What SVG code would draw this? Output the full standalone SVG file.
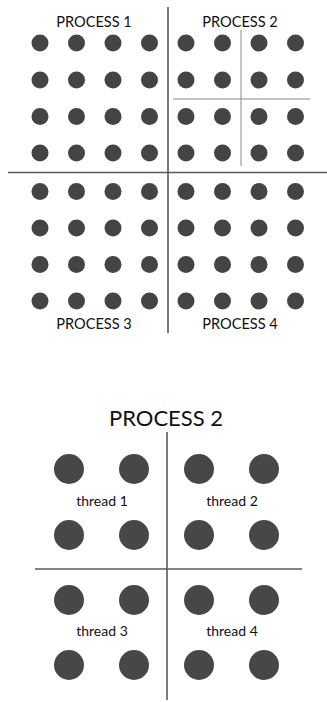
<svg xmlns="http://www.w3.org/2000/svg" width="327" height="702" viewBox="0 0 327 702">
<defs>
<style>
.d{fill:#444;}
.bd{fill:#474747;}
.t{font-family:Lato,"Open Sans","Liberation Sans",sans-serif;fill:#111;text-anchor:middle;}
.main{stroke:#5a5a5a;stroke-width:1.6;fill:none;}
.sub{stroke:#8a8a8a;stroke-width:1;fill:none;}
</style>
<g id="dot"><circle r="8.5" class="d"/></g>
<g id="bdot"><circle r="15" class="bd"/></g>
</defs>
<rect width="327" height="702" fill="#fff"/>
<g id="connectors">
<line class="main" x1="168" y1="7" x2="168" y2="333"/>
<line class="main" x1="8" y1="172.5" x2="327" y2="172.5"/>
<line class="sub" x1="241" y1="30" x2="241" y2="166"/>
<line class="sub" x1="173" y1="99" x2="310" y2="99"/>
<line class="main" x1="167" y1="432" x2="167" y2="700"/>
<line class="main" x1="35" y1="569" x2="302" y2="569"/>
</g>
<g id="process1">
<text class="t" x="94" y="27" font-size="14.6">PROCESS 1</text>
<use href="#dot" x="40" y="43"/><use href="#dot" x="76.5" y="43"/><use href="#dot" x="113" y="43"/><use href="#dot" x="149.5" y="43"/>
<use href="#dot" x="40" y="80"/><use href="#dot" x="76.5" y="80"/><use href="#dot" x="113" y="80"/><use href="#dot" x="149.5" y="80"/>
<use href="#dot" x="40" y="116.5"/><use href="#dot" x="76.5" y="116.5"/><use href="#dot" x="113" y="116.5"/><use href="#dot" x="149.5" y="116.5"/>
<use href="#dot" x="40" y="153"/><use href="#dot" x="76.5" y="153"/><use href="#dot" x="113" y="153"/><use href="#dot" x="149.5" y="153"/>
</g>
<g id="process2">
<text class="t" x="240" y="27" font-size="14.6">PROCESS 2</text>
<use href="#dot" x="186" y="43"/><use href="#dot" x="222.5" y="43"/><use href="#dot" x="259" y="43"/><use href="#dot" x="295.5" y="43"/>
<use href="#dot" x="186" y="80"/><use href="#dot" x="222.5" y="80"/><use href="#dot" x="259" y="80"/><use href="#dot" x="295.5" y="80"/>
<use href="#dot" x="186" y="116.5"/><use href="#dot" x="222.5" y="116.5"/><use href="#dot" x="259" y="116.5"/><use href="#dot" x="295.5" y="116.5"/>
<use href="#dot" x="186" y="153"/><use href="#dot" x="222.5" y="153"/><use href="#dot" x="259" y="153"/><use href="#dot" x="295.5" y="153"/>
</g>
<g id="process3">
<use href="#dot" x="40" y="191.5"/><use href="#dot" x="76.5" y="191.5"/><use href="#dot" x="113" y="191.5"/><use href="#dot" x="149.5" y="191.5"/>
<use href="#dot" x="40" y="228"/><use href="#dot" x="76.5" y="228"/><use href="#dot" x="113" y="228"/><use href="#dot" x="149.5" y="228"/>
<use href="#dot" x="40" y="264.5"/><use href="#dot" x="76.5" y="264.5"/><use href="#dot" x="113" y="264.5"/><use href="#dot" x="149.5" y="264.5"/>
<use href="#dot" x="40" y="301"/><use href="#dot" x="76.5" y="301"/><use href="#dot" x="113" y="301"/><use href="#dot" x="149.5" y="301"/>
<text class="t" x="94" y="329" font-size="14.6">PROCESS 3</text>
</g>
<g id="process4">
<use href="#dot" x="186" y="191.5"/><use href="#dot" x="222.5" y="191.5"/><use href="#dot" x="259" y="191.5"/><use href="#dot" x="295.5" y="191.5"/>
<use href="#dot" x="186" y="228"/><use href="#dot" x="222.5" y="228"/><use href="#dot" x="259" y="228"/><use href="#dot" x="295.5" y="228"/>
<use href="#dot" x="186" y="264.5"/><use href="#dot" x="222.5" y="264.5"/><use href="#dot" x="259" y="264.5"/><use href="#dot" x="295.5" y="264.5"/>
<use href="#dot" x="186" y="301"/><use href="#dot" x="222.5" y="301"/><use href="#dot" x="259" y="301"/><use href="#dot" x="295.5" y="301"/>
<text class="t" x="240" y="329" font-size="14.6">PROCESS 4</text>
</g>
<g id="process2-detail">
<text class="t" x="166" y="426" font-size="22">PROCESS 2</text>
</g>
<g id="thread1">
<use href="#bdot" x="69" y="469"/><use href="#bdot" x="134" y="469"/>
<text class="t" x="102" y="506" font-size="14">thread 1</text>
<use href="#bdot" x="69" y="535"/><use href="#bdot" x="134" y="535"/>
</g>
<g id="thread2">
<use href="#bdot" x="199" y="469"/><use href="#bdot" x="264" y="469"/>
<text class="t" x="232" y="506" font-size="14">thread 2</text>
<use href="#bdot" x="199" y="535"/><use href="#bdot" x="264" y="535"/>
</g>
<g id="thread3">
<use href="#bdot" x="69" y="600"/><use href="#bdot" x="134" y="600"/>
<text class="t" x="102" y="636" font-size="14">thread 3</text>
<use href="#bdot" x="69" y="665"/><use href="#bdot" x="134" y="665"/>
</g>
<g id="thread4">
<use href="#bdot" x="199" y="600"/><use href="#bdot" x="264" y="600"/>
<text class="t" x="232" y="636" font-size="14">thread 4</text>
<use href="#bdot" x="199" y="665"/><use href="#bdot" x="264" y="665"/>
</g>
</svg>
